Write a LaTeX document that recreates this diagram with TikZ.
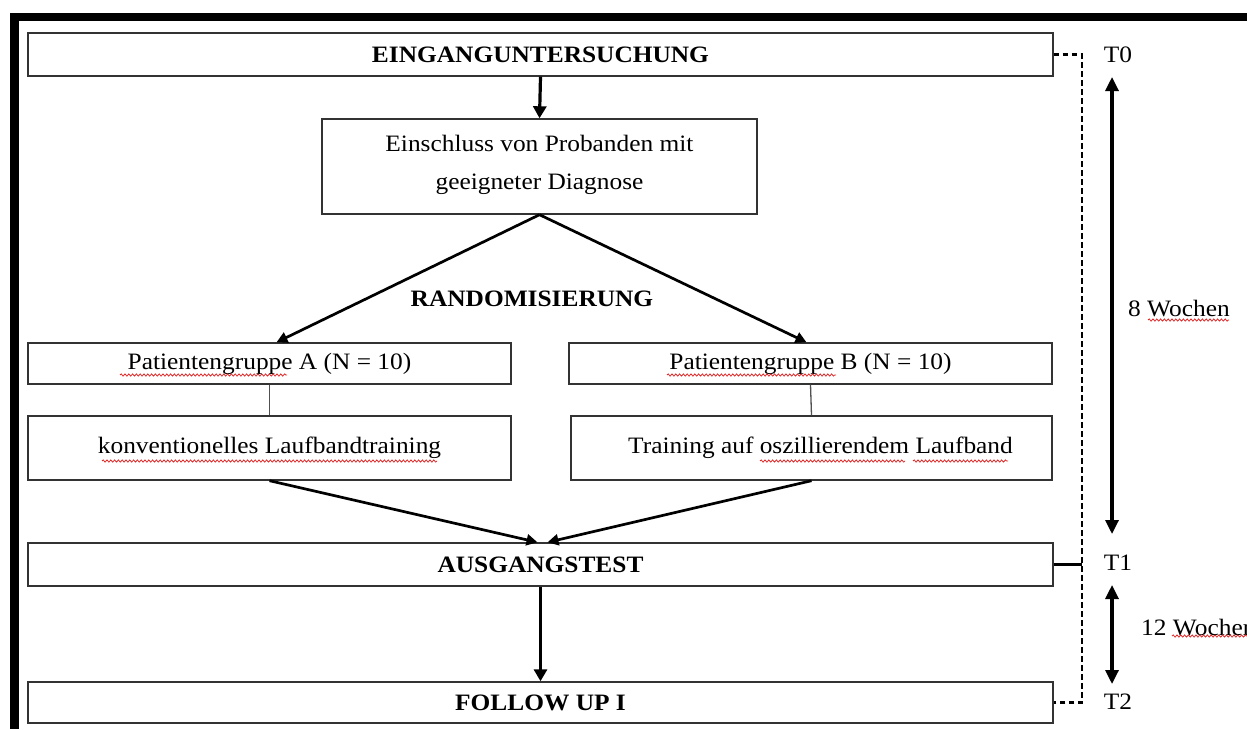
\documentclass[tikz,border=0pt]{standalone}
\usepackage{fontspec}
\setmainfont{Liberation Serif}[FakeStretch=1.08]
\usetikzlibrary{arrows.meta,decorations.pathmorphing,calc}
\definecolor{boxgray}{HTML}{333333}
\definecolor{linkgray}{HTML}{505050}
\definecolor{spellred}{HTML}{E02828}
\begin{document}
\begin{tikzpicture}[x=1pt,y=-1pt,
  font=\fontsize{23.5}{28}\selectfont,
  box/.style={draw=boxgray, line width=1.4pt, inner sep=0pt, align=center},
  thickarrow/.style={line width=3.2pt, -{Triangle[width=13pt,length=12pt]}},
  diagarrow/.style={line width=2.7pt, -{Triangle[width=11pt,length=11pt]}},
  dblarrow/.style={line width=3.2pt, {Triangle[width=13pt,length=14pt]}-{Triangle[width=13pt,length=14pt]}},
  link/.style={draw=linkgray, line width=1.3pt},
  timeline/.style={line width=2.8pt, dash pattern=on 5.5pt off 3.5pt},
  spell/.style={draw=spellred, line width=0.8pt, decorate, decoration={snake, amplitude=1.1pt, segment length=3.8pt}}
]
\useasboundingbox (0,0) rectangle (1247,729);
\clip (0,0) rectangle (1247,729);
% frame bars
\fill[black] (10,13) rectangle (1247,21);
\fill[black] (10,13) rectangle (19,729);

% boxes
\node[box, minimum width=1025pt, minimum height=43pt] (eing) at (540.5,54.5) {\textbf{EINGANGUNTERSUCHUNG}};
\node[box, minimum width=435pt, minimum height=95pt] (ein) at (539.5,166.5) {Einschluss von Probanden mit\\[10pt]geeigneter Diagnose\\[-19pt]};
\node (rand) at (532,299) {\textbf{RANDOMISIERUNG}};
\node[box, minimum width=483pt, minimum height=41pt] (ga) at (269.5,363.5) {Patientengruppe A (N = 10)};
\node[box, minimum width=483pt, minimum height=41pt] (gb) at (810.5,363.5) {Patientengruppe B (N = 10)};
\node[box, minimum width=483pt, minimum height=64pt] (konv) at (269.5,448) {konventionelles Laufbandtraining};
\node[box, minimum width=481pt, minimum height=64pt] (train) at (811.5,448) {\hspace*{18pt}Training auf oszillierendem Laufband};
\node[box, minimum width=1025pt, minimum height=43pt] (aus) at (540.5,564.5) {\textbf{AUSGANGSTEST}};
\node[box, minimum width=1025pt, minimum height=41pt] (fol) at (540.5,702.5) {\textbf{FOLLOW UP I}};

% time labels
\node (t0) at (1118,55) {T0};
\node (t1) at (1118,563) {T1};
\node (t2) at (1118,702) {T2};
\node[anchor=west, inner sep=0pt] (w8) at (1128,309) {8 Wochen};
\node[anchor=west, inner sep=0pt] (w12) at (1141,628) {12 Wochen};

% connectors
\draw[thickarrow] (eing.south) -- (ein.north);
\draw[diagarrow] (ein.south) -- ([xshift=7pt]ga.north);
\draw[diagarrow] (ein.south) -- ([xshift=-4pt]gb.north);
\draw[link] (ga.south) -- (konv.north);
\draw[link] (gb.south) -- (train.north);
\draw[diagarrow] (konv.south) -- ([xshift=-3pt]aus.north);
\draw[diagarrow] (train.south) -- ([xshift=7pt]aus.north);
\draw[thickarrow] (aus.south) -- (fol.north);

% dashed timeline
\coordinate (d0) at (1082,54.5);
\coordinate (d2) at (1082,702.5);
\draw[timeline] (eing.east) -- (d0) -- (d2) -- (fol.east);
\draw[line width=2.6pt] (aus.east) -- (aus.east -| d0);

% duration arrows
\coordinate (a1) at (1112,77);
\coordinate (a2) at (1112,534);
\coordinate (b1) at (1112,585);
\coordinate (b2) at (1112,684);
\draw[dblarrow] (a1) -- (a2);
\draw[dblarrow] (b1) -- (b2);

% spell-check underlines
\draw[spell] (120,375) -- (287,375);
\draw[spell] (667,375) -- (836,375);
\draw[spell] (102,461) -- (437,461);
\draw[spell] (760,461) -- (905,461);
\draw[spell] (913,461) -- (1008,461);
\draw[spell] (1148,320) -- (1229,320);
\draw[spell] (1172,636) -- (1247,636);
\end{tikzpicture}
\end{document}
